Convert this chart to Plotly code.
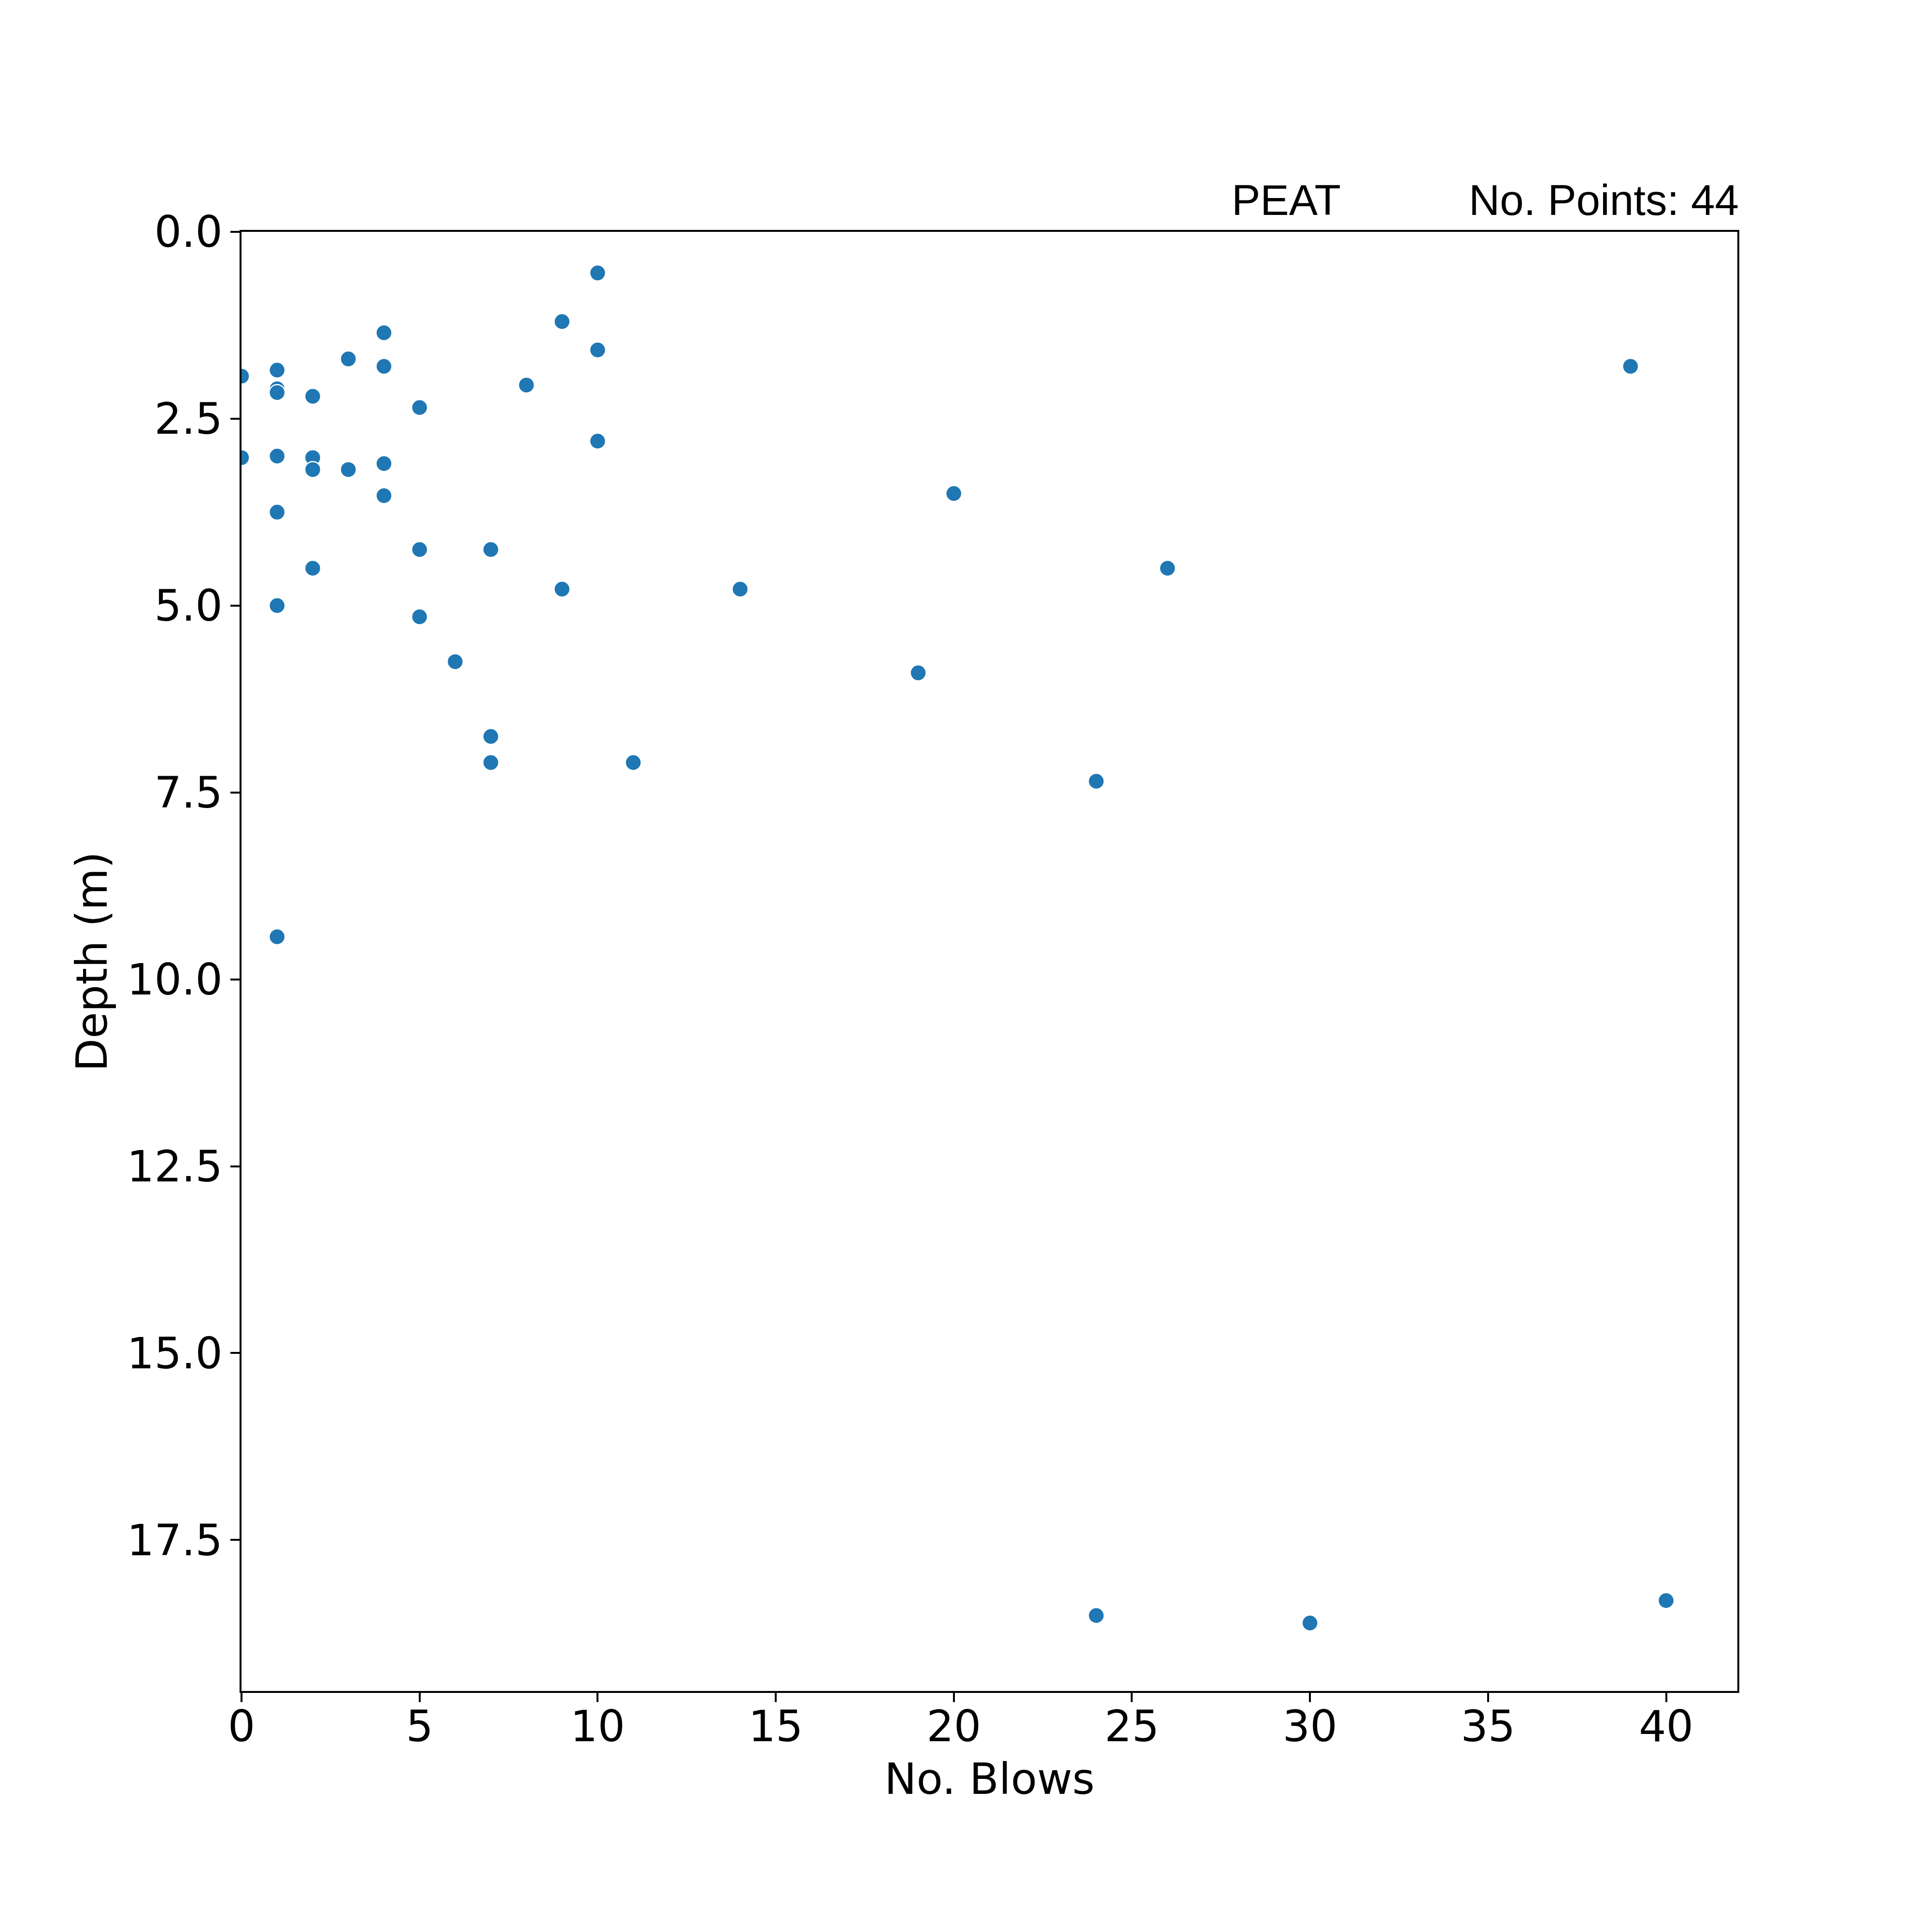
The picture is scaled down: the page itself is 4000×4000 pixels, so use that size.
import plotly.graph_objects as go

# Data (PEAT)
blows = [0, 0,
         1, 1, 1, 1, 1, 1, 1,
         2, 2, 2, 2,
         3, 3,
         4, 4, 4, 4,
         5, 5, 5,
         6,
         7, 7, 7,
         8,
         9, 9,
         10, 10, 10,
         11, 14, 19, 20, 24, 26, 39,
         24, 30, 40]
depth = [1.93, 3.02,
         1.85, 2.10, 2.15, 3.00, 3.75, 5.00, 9.43,
         2.20, 3.02, 3.18, 4.50,
         1.70, 3.18,
         1.35, 1.80, 3.10, 3.53,
         2.35, 4.25, 5.15,
         5.75,
         4.25, 6.75, 7.10,
         2.05,
         1.20, 4.78,
         0.55, 1.58, 2.80,
         7.10, 4.78, 5.90, 3.50, 7.35, 4.50, 1.80,
         18.51, 18.61, 18.31]

soil_label = "PEAT"
points_label = "No. Points: 44"
x_title = "No. Blows"
y_title = "Depth (m)"
x_ticks = [0, 5, 10, 15, 20, 25, 30, 35, 40]
y_ticks = [0.0, 2.5, 5.0, 7.5, 10.0, 12.5, 15.0, 17.5]

W = H = 4000
# page body has an 8px default margin, compensate so plot spans 500..3597 x 480..3501
ML, MT = 492, 472
PW, PH = 3097, 3021
MR = W - ML - PW
MB = H - MT - PH
FS = 89
tick_font = dict(family="DejaVu Sans", size=FS, color="black")
arial = dict(family="Liberation Sans, Arial", size=FS, color="black")

fig = go.Figure()
fig.add_trace(go.Scatter(
    x=blows, y=depth, mode="markers",
    marker=dict(size=33, color="#1f77b4", line=dict(color="white", width=2.5)),
    cliponaxis=True, showlegend=False,
))

axis_common = dict(
    showline=True, linecolor="black", linewidth=4.4, mirror=True,
    ticks="outside", ticklen=19, tickwidth=4.4, tickcolor="black",
    showgrid=False, zeroline=False, tickfont=tick_font,
)

fig.update_xaxes(range=[0, 42], tickvals=x_ticks,
                 ticktext=[str(v) for v in x_ticks],
                 ticklabelstandoff=-26, **axis_common)
fig.update_yaxes(range=[19.52, 0], tickvals=y_ticks,
                 ticktext=[f"{v:.1f}" for v in y_ticks],
                 ticklabelstandoff=-2, **axis_common)

fig.update_layout(
    width=W, height=H,
    margin=dict(l=ML, r=MR, t=MT, b=MB, pad=0),
    plot_bgcolor="white", paper_bgcolor="white",
    annotations=[
        dict(text=x_title, xref="paper", yref="paper", x=0.5, y=-0.0602,
             xanchor="center", yanchor="middle", showarrow=False,
             font=tick_font),
        dict(text=y_title, xref="paper", yref="paper", x=-0.1001, y=0.5,
             xanchor="center", yanchor="middle", showarrow=False,
             textangle=-90, font=tick_font),
        dict(text=soil_label, xref="paper", yref="paper", x=0.6613, y=1.022,
             xanchor="left", yanchor="middle", showarrow=False, font=arial),
        dict(text=points_label, xref="paper", yref="paper", x=1.0016, y=1.022,
             xanchor="right", yanchor="middle", showarrow=False, font=arial),
    ],
)

fig.write_html("out.html")
